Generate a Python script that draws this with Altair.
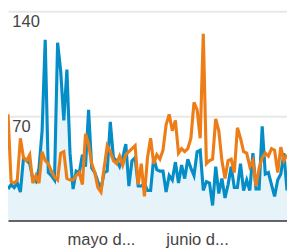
import altair as alt
import pandas as pd

# daily index: 0 = 1 abr ... 90 = 30 jun
days = list(range(91))

blue_values = [
    21, 24, 22, 25, 19, 42, 40, 38, 28, 26, 35, 60, 121, 32, 30, 27, 119, 100, 67, 101, 45,
    21, 33, 32, 44, 36, 74, 35, 32, 26, 21, 32, 33, 66, 42, 40, 36, 42, 51, 23, 40, 42, 23, 23, 25, 20,
    20, 42, 34, 33, 33, 19, 30, 27, 39, 25, 37, 28, 41, 35, 30, 46, 47, 20, 26, 25,
    10, 36, 18, 28, 15, 24, 36, 22, 22, 38, 20, 27, 20, 45, 21, 21, 63, 31, 32, 24, 16, 27, 31, 45, 20,
]
orange_values = [
    71, 26, 25, 27, 55, 42, 40, 44, 25, 30, 25, 46, 40, 38, 33, 29, 27, 45, 46, 28, 27, 27, 30,
    32, 24, 58, 51, 38, 32, 22, 19, 35, 50, 46, 40, 38, 43, 37, 44, 46, 48, 50, 24, 38, 16, 42,
    55, 38, 44, 41, 47, 64, 71, 60, 67, 45, 48, 46, 48, 55, 79, 74, 55, 125, 38, 40, 41,
    68, 60, 40, 28, 40, 41, 32, 62, 55, 46, 45, 36, 40, 23, 35, 42, 45, 43, 48, 47, 32, 49, 40, 44,
]
y_ticks = [70, 140]
x_tick_days = [30, 61]
x_tick_labels = ["mayo d...", "junio d..."]

BLUE = "#058DC7"
ORANGE = "#ED7E17"
FONT = "Liberation Sans"

df = pd.DataFrame({"day": days, "blue": blue_values, "orange": orange_values})

label_expr = "datum.value == %d ? '%s' : '%s'" % (x_tick_days[0], x_tick_labels[0], x_tick_labels[1])

x_enc = alt.X(
    "day:Q",
    scale=alt.Scale(domain=[0, 90], nice=False, zero=False),
    axis=alt.Axis(
        title=None, values=x_tick_days, labelExpr=label_expr, grid=False, ticks=False,
        domain=True, domainColor="#333333", domainWidth=2, labelFont=FONT,
        labelFontSize=17, labelColor="#444444", labelPadding=12, labelFlush=False,
    ),
)
y_scale = alt.Scale(domain=[0, 140], nice=False, zero=True)
y_axis = alt.Axis(
    title=None, values=y_ticks, grid=True, gridColor="#e8e8e8", gridWidth=2,
    ticks=False, tickSize=0, domain=False, labelAlign="left", labelBaseline="top",
    labelPadding=-4, labelOffset=3, labelFont=FONT, labelFontSize=17, labelColor="#444444",
)

base = alt.Chart(df)
area = base.mark_area(color="#E6F3F9").encode(
    x=x_enc, y=alt.Y("blue:Q", scale=y_scale, axis=y_axis)
)
blue_line = base.mark_line(color=BLUE, strokeWidth=3.2).encode(
    x="day:Q", y=alt.Y("blue:Q", scale=y_scale)
)
orange_line = base.mark_line(color=ORANGE, strokeWidth=3.2).encode(
    x="day:Q", y=alt.Y("orange:Q", scale=y_scale)
)

chart = (
    alt.layer(area, blue_line, orange_line)
    .properties(
        width=287, height=215,
        autosize=alt.AutoSizeParams(type="none"),
        padding={"left": 0, "top": 0, "right": 0, "bottom": 25},
    )
    .configure_view(stroke=None)
)

chart.save("out.html", embed_options={"renderer": "svg", "actions": False})
